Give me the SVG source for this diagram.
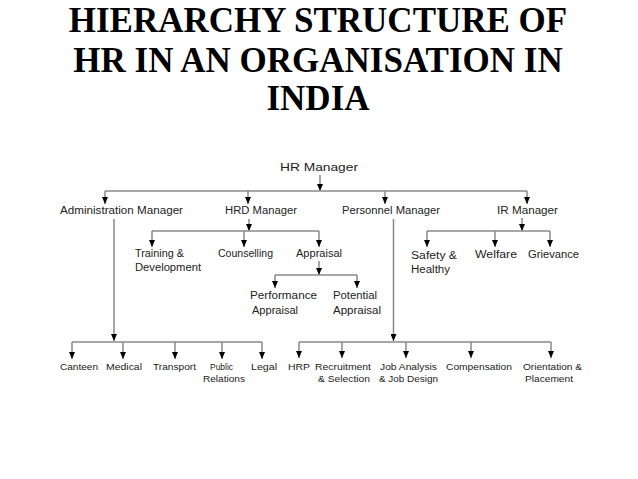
<svg xmlns="http://www.w3.org/2000/svg" width="638" height="479" viewBox="0 0 638 479">
<style>
.title{font-family:"Liberation Serif","Times New Roman",serif;font-weight:bold;font-size:35px;fill:#000;text-anchor:middle}
.lbl{font-family:"Liberation Sans",Arial,sans-serif;font-size:10px;fill:#222;text-anchor:middle}
.top{font-size:11px}
.bot{font-size:9px}
.ln{stroke:#8a8a8a;stroke-width:1.5;fill:none}
.ar{stroke:#8a8a8a;stroke-width:1.5;fill:none;marker-end:url(#ah)}
</style>
<defs>
<marker id="ah" viewBox="0 0 7 6" refX="7" refY="3" markerWidth="7" markerHeight="6" markerUnits="userSpaceOnUse" orient="auto">
<path d="M0,0 L7,3 L0,6 z" fill="#000"/>
</marker>
</defs>
<rect width="638" height="479" fill="#fff"/>
<g id="title">
<text class="title" x="318" y="32">HIERARCHY STRUCTURE OF</text>
<text class="title" x="318" y="72">HR IN AN ORGANISATION IN</text>
<text class="title" x="318" y="110">INDIA</text>
</g>
<g id="connectors">
<path class="ar" d="M320,175 V191"/>
<path class="ln" d="M105,191 H527"/>
<path class="ar" d="M105,191 V204"/>
<path class="ar" d="M248,191 V204"/>
<path class="ar" d="M385,191 V204"/>
<path class="ar" d="M527,191 V204"/>
<path class="ar" d="M249,219 V231"/>
<path class="ln" d="M152,231 H319"/>
<path class="ar" d="M152,231 V247"/>
<path class="ar" d="M244,231 V247"/>
<path class="ar" d="M319,231 V247"/>
<path class="ar" d="M319,261 V275"/>
<path class="ln" d="M275,275 H357"/>
<path class="ar" d="M275,275 V288"/>
<path class="ar" d="M357,275 V288"/>
<path class="ar" d="M522,218 V231"/>
<path class="ln" d="M427,231 H550"/>
<path class="ar" d="M427,231 V247"/>
<path class="ar" d="M495,231 V247"/>
<path class="ar" d="M550,231 V247"/>
<path class="ar" d="M114,219 V341"/>
<path class="ln" d="M72,342 H262"/>
<path class="ar" d="M72,342 V359"/>
<path class="ar" d="M123,342 V359"/>
<path class="ar" d="M175,342 V359"/>
<path class="ar" d="M222,342 V359"/>
<path class="ar" d="M262,342 V359"/>
<path class="ar" d="M393.5,219 V341"/>
<path class="ln" d="M299,342 H551"/>
<path class="ar" d="M299,342 V358"/>
<path class="ar" d="M342,342 V358"/>
<path class="ar" d="M406,342 V358"/>
<path class="ar" d="M471,342 V358"/>
<path class="ar" d="M551,342 V358"/>
</g>
<g id="hr-manager"><text class="lbl top" x="319" y="171" textLength="78" lengthAdjust="spacingAndGlyphs">HR Manager</text></g>
<g id="admin-manager"><text class="lbl" x="121.5" y="214" textLength="123" lengthAdjust="spacingAndGlyphs">Administration Manager</text></g>
<g id="hrd-manager"><text class="lbl" x="261" y="214" textLength="72" lengthAdjust="spacingAndGlyphs">HRD Manager</text></g>
<g id="personnel-manager"><text class="lbl" x="391" y="214" textLength="98" lengthAdjust="spacingAndGlyphs">Personnel Manager</text></g>
<g id="ir-manager"><text class="lbl" x="527.5" y="214" textLength="61" lengthAdjust="spacingAndGlyphs">IR Manager</text></g>
<g id="training"><text class="lbl" x="159.5" y="257" textLength="49" lengthAdjust="spacingAndGlyphs">Training &amp;</text><text class="lbl" x="168" y="271" textLength="66" lengthAdjust="spacingAndGlyphs">Development</text></g>
<g id="counselling"><text class="lbl" x="245.5" y="257" textLength="55" lengthAdjust="spacingAndGlyphs">Counselling</text></g>
<g id="appraisal"><text class="lbl" x="319" y="257" textLength="46" lengthAdjust="spacingAndGlyphs">Appraisal</text></g>
<g id="performance-appraisal"><text class="lbl" x="283.5" y="299" textLength="67" lengthAdjust="spacingAndGlyphs">Performance</text><text class="lbl" x="275" y="314" textLength="46" lengthAdjust="spacingAndGlyphs">Appraisal</text></g>
<g id="potential-appraisal"><text class="lbl" x="355" y="299" textLength="44" lengthAdjust="spacingAndGlyphs">Potential</text><text class="lbl" x="357" y="314" textLength="48" lengthAdjust="spacingAndGlyphs">Appraisal</text></g>
<g id="safety"><text class="lbl" x="434" y="259" textLength="46" lengthAdjust="spacingAndGlyphs">Safety &amp;</text><text class="lbl" x="430.5" y="273" textLength="39" lengthAdjust="spacingAndGlyphs">Healthy</text></g>
<g id="welfare"><text class="lbl" x="496" y="258" textLength="42" lengthAdjust="spacingAndGlyphs">Welfare</text></g>
<g id="grievance"><text class="lbl" x="553.5" y="258" textLength="51" lengthAdjust="spacingAndGlyphs">Grievance</text></g>
<g id="canteen"><text class="lbl bot" x="79" y="370" textLength="38" lengthAdjust="spacingAndGlyphs">Canteen</text></g>
<g id="medical"><text class="lbl bot" x="124" y="370" textLength="36" lengthAdjust="spacingAndGlyphs">Medical</text></g>
<g id="transport"><text class="lbl bot" x="174.5" y="370" textLength="43" lengthAdjust="spacingAndGlyphs">Transport</text></g>
<g id="public-relations"><text class="lbl bot" x="221.5" y="370" textLength="23" lengthAdjust="spacingAndGlyphs">Public</text><text class="lbl bot" x="224" y="382" textLength="42" lengthAdjust="spacingAndGlyphs">Relations</text></g>
<g id="legal"><text class="lbl bot" x="264" y="370" textLength="26" lengthAdjust="spacingAndGlyphs">Legal</text></g>
<g id="hrp"><text class="lbl bot" x="299" y="370" textLength="22" lengthAdjust="spacingAndGlyphs">HRP</text></g>
<g id="recruitment"><text class="lbl bot" x="343" y="370" textLength="56" lengthAdjust="spacingAndGlyphs">Recruitment</text><text class="lbl bot" x="344" y="382" textLength="52" lengthAdjust="spacingAndGlyphs">&amp; Selection</text></g>
<g id="job-analysis"><text class="lbl bot" x="408.5" y="370" textLength="57" lengthAdjust="spacingAndGlyphs">Job Analysis</text><text class="lbl bot" x="408.5" y="382" textLength="59" lengthAdjust="spacingAndGlyphs">&amp; Job Design</text></g>
<g id="compensation"><text class="lbl bot" x="479" y="370" textLength="66" lengthAdjust="spacingAndGlyphs">Compensation</text></g>
<g id="orientation"><text class="lbl bot" x="552.5" y="370" textLength="59" lengthAdjust="spacingAndGlyphs">Orientation &amp;</text><text class="lbl bot" x="549" y="382" textLength="48" lengthAdjust="spacingAndGlyphs">Placement</text></g>
</svg>
